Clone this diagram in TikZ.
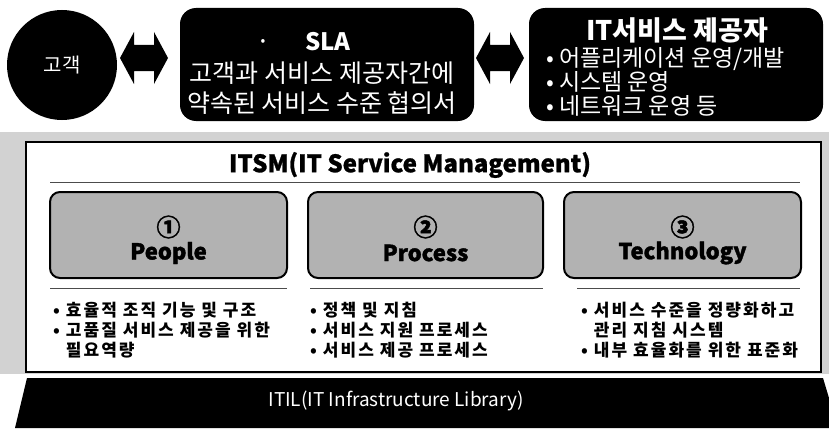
\documentclass[tikz,border=0pt]{standalone}
\usepackage{fontspec}
\setmainfont{Noto Sans CJK KR}
\usetikzlibrary{calc}
\newcommand\fs[2]{\fontsize{#1pt}{#2pt}\selectfont}
\begin{document}
\begin{tikzpicture}[x=1pt,y=-1pt,
  darkbox/.style={fill=black, draw=none, rounded corners=16pt, inner sep=0pt},
  graybox/.style={draw=black, line width=2pt, fill=gray!60, rounded corners=10pt, minimum height=86pt, inner sep=0pt},
  wtext/.style={text=white, inner sep=0pt},
  bul/.style={anchor=west, inner sep=0pt, font=\bfseries\fs{17}{20}\addfontfeature{LetterSpace=12}},
  numtxt/.style={inner sep=0pt, font=\bfseries\fs{24}{24}\addfontfeature{FakeBold=2}},
  boxlbl/.style={inner sep=0pt, font=\bfseries\fs{22}{24}\addfontfeature{FakeBold=1.5}},
  rule/.style={line width=0.8pt, draw=black!70},
  dblarrow/.pic={\fill[black] (-24,0) -- (-10,-26) -- (-10,-13) -- (10,-13) -- (10,-26) -- (24,0) -- (10,26) -- (10,13) -- (-10,13) -- (-10,26) -- cycle;}
]
\useasboundingbox (0,0) rectangle (829,428);
% top row
\node[circle, fill=black, minimum size=110pt, inner sep=0pt, text=white, font=\fs{20}{24}] (cust) at (62,65) {고객};
\node[darkbox, minimum width=294pt, minimum height=113pt] (sla) at (327,64.5) {};
\node[darkbox, minimum width=294pt, minimum height=113pt] (its) at (676,64.5) {};
\pic at (144,58) {dblarrow};
\pic at (500,58) {dblarrow};
\node[wtext, font=\fs{14}{16}] (sladot) at (263,42) {•};
\node[wtext, font=\bfseries\fs{24}{26}] (slat) at (328,42) {SLA};
\node[wtext, align=center, font=\fs{25}{30}] (slab) at (322,88) {고객과 서비스 제공자간에\\약속된 서비스 수준 협의서};
\node[wtext, font=\bfseries\fs{27}{30}] (itst) at (677,30) {IT서비스 제공자};
\node[wtext, anchor=west, align=left, font=\fs{23}{24}] (itsb) at (546,82) {• 어플리케이션 운영/개발\\• 시스템 운영\\• 네트워크 운영 등};
% ITSM frame
\fill[gray!35] (0,132) rectangle (829,374);
\node[draw=black, line width=1.6pt, fill=white, minimum width=795pt, minimum height=230pt, inner sep=0pt] (itsm) at (423.5,257) {};
\node[inner sep=0pt, font=\bfseries\fs{24}{26}\addfontfeature{FakeBold=1}] (itsmt) at (410,165) {ITSM(IT Service Management)};
\draw[rule] (50,182) -- (800,182);
\node[graybox, minimum width=237pt] (b1) at (168.5,235) {};
\node[graybox, minimum width=235pt] (b2) at (425.5,235) {};
\node[graybox, minimum width=237pt] (b3) at (682.5,235) {};
\node[numtxt] (n1) at ($(b1.center)+(0,-8)$) {①};
\node[boxlbl] (l1) at ($(b1.center)+(0,18)$) {People};
\node[numtxt] (n2) at ($(b2.center)+(0,-8)$) {②};
\node[boxlbl] (l2) at ($(b2.center)+(0,18)$) {Process};
\node[numtxt] (n3) at ($(b3.center)+(0,-8)$) {③};
\node[boxlbl] (l3) at ($(b3.center)+(0,18)$) {Technology};
\draw[rule] (50,288) -- (287,288);
\draw[rule] (310,288) -- (543,288);
\draw[rule] (577,288) -- (800,288);
\node[bul] (c1a) at (53,310) {• 효율적 조직 기능 및 구조};
\node[bul] (c1b) at (53,330) {• 고품질 서비스 제공을 위한};
\node[bul] (c1c) at (53,350) {\phantom{• }필요역량};
\node[bul] (c2a) at (310,310) {• 정책 및 지침};
\node[bul] (c2b) at (310,330) {• 서비스 지원 프로세스};
\node[bul] (c2c) at (310,350) {• 서비스 제공 프로세스};
\node[bul] (c3a) at (581,310) {• 서비스 수준을 정량화하고};
\node[bul] (c3b) at (581,330) {\phantom{• }관리 지침 시스템};
\node[bul] (c3c) at (581,350) {• 내부 효율화를 위한 표준화};
% ITIL bar
\fill[black] (27,378) -- (823,378) -- (829,398) -- (829,428) -- (15,428) -- cycle;
\node[wtext, font=\fs{19}{22}] (itil) at (396,401) {ITIL(IT Infrastructure Library)};
\end{tikzpicture}
\end{document}
